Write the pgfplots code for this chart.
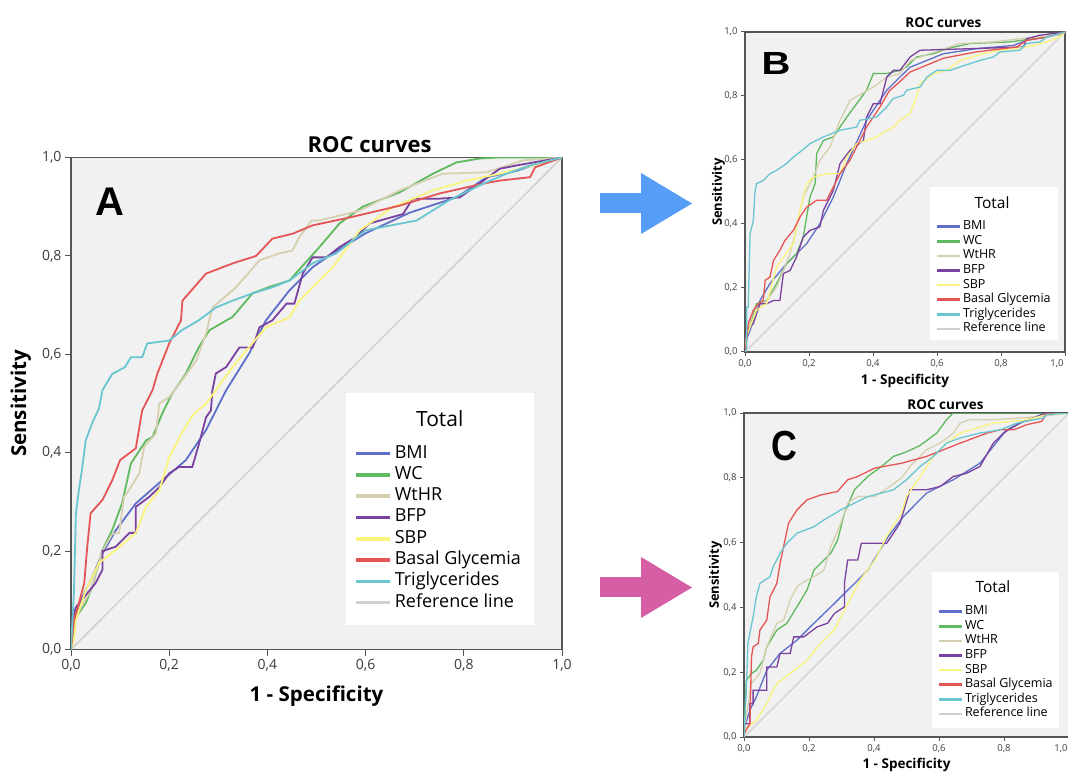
\documentclass[border=0pt]{standalone}
\usepackage{fontspec}
\setmainfont{Open Sans}
\newfontfamily\letterfont{Liberation Sans}
\usepackage{pgfplots}
\pgfplotsset{compat=1.18}
\definecolor{cBMI}{RGB}{95,110,200}
\definecolor{cWC}{RGB}{95,185,95}
\definecolor{cWtHR}{RGB}{214,208,176}
\definecolor{cBFP}{RGB}{122,66,160}
\definecolor{cSBP}{RGB}{250,244,125}
\definecolor{cGly}{RGB}{230,85,85}
\definecolor{cTri}{RGB}{105,198,208}
\definecolor{cRef}{RGB}{208,208,208}
\definecolor{bggray}{RGB}{241,241,241}
\definecolor{axgray}{RGB}{85,85,85}
\definecolor{tickgray}{RGB}{60,60,60}
\definecolor{arrowblue}{RGB}{86,157,247}
\definecolor{arrowpink}{RGB}{214,94,164}
\pgfplotsset{
  roc/.style={
    scale only axis, xmin=0, xmax=1, ymin=0, ymax=1,
    axis background/.style={fill=bggray},
    axis line style={draw=axgray, line width=1.1pt},
    xtick={0,0.2,0.4,0.6,0.8,1}, ytick={0,0.2,0.4,0.6,0.8,1},
    tick pos=left, tick align=outside,
    major tick style={draw=axgray, line width=1pt},
    /pgf/number format/fixed, /pgf/number format/fixed zerofill,
    /pgf/number format/precision=1, /pgf/number format/use comma,
    /pgf/number format/assume math mode=true,
    ticklabel style={text=tickgray},
    title={ROC curves},
    xlabel={1 - Specificity}, ylabel={Sensitivity},
    legend cell align=left,
  },
  rocA/.style={roc,
    major tick length=6pt,
    ticklabel style={font=\fontsize{14}{16}\selectfont},
    title style={at={(0.608,1)}, anchor=base, yshift=-1.5pt, font=\fontsize{22}{24}\selectfont\bfseries},
    x label style={at={(axis description cs:0.5,-0.1066)}, anchor=base, font=\fontsize{20.5}{24}\selectfont\bfseries},
    y label style={at={(axis description cs:-0.0916,0.5)}, anchor=base, font=\fontsize{20.5}{24}\selectfont\bfseries},
    legend style={at={(0.58,0.416)}, anchor=north west, draw=none, fill=none, inner sep=0pt,
      row sep=4.3pt, font=\fontsize{18}{20}\selectfont,
      nodes={inner xsep=0pt, inner ysep=0pt, text height=13pt, text depth=4pt},
      /tikz/every odd column/.style={column sep=5pt}},
    legend image code/.code={\fill[#1] (0pt,-0.9pt) rectangle (32pt,0.9pt);},
    every axis plot/.append style={line width=1.8pt},
  },
  rocS/.style={roc,
    major tick length=4pt,
    ticklabel style={font=\fontsize{9.5}{11}\selectfont},
    xticklabels={{0,0},{0,2},{0,4},{0,6},{0,8},{\makebox[0pt][r]{1,0\hspace{1.5pt}}}},
    title style={at={(0.62,1)}, anchor=base, yshift=-2pt, font=\fontsize{13.5}{15}\selectfont\bfseries},
    legend style={anchor=north west, draw=none, fill=none, inner sep=0pt,
      row sep=2.6pt, font=\fontsize{12.5}{14}\selectfont,
      nodes={inner xsep=0pt, inner ysep=0pt, text height=9pt, text depth=3pt},
      /tikz/every odd column/.style={column sep=3.5pt}},
    legend image code/.code={\fill[#1] (0pt,-0.65pt) rectangle (21pt,0.65pt);},
    every axis plot/.append style={line width=1.3pt},
  },
}
\begin{document}
\begin{tikzpicture}
\path[use as bounding box] (0pt,0pt) rectangle (1068pt,772pt);
% arrows
\fill[arrowblue] (600pt,559pt) rectangle (642pt,579pt);
\fill[arrowblue] (641pt,599pt) -- (692pt,568.5pt) -- (641pt,538pt) -- cycle;
\fill[arrowpink] (600pt,175pt) rectangle (642pt,195pt);
\fill[arrowpink] (641pt,215pt) -- (692pt,184.5pt) -- (641pt,154pt) -- cycle;

%================ PANEL A
\begin{axis}[rocA, at={(71pt,122.5pt)}, anchor=south west, width=491pt, height=492pt]
\addplot[cRef, line width=1.5pt, forget plot] coordinates {(0,0) (1,1)};
\addplot[cBMI] coordinates {(0,0) (0.006,0.06) (0.02,0.1) (0.043,0.147) (0.064,0.195) (0.091,0.242) (0.132,0.297) (0.186,0.344) (0.234,0.385) (0.275,0.446) (0.316,0.527) (0.363,0.602) (0.397,0.669) (0.445,0.73) (0.492,0.777) (0.533,0.805) (0.6,0.846) (0.69,0.888) (0.785,0.919) (0.847,0.96) (0.908,0.973) (0.969,0.994) (1,1)};
\addlegendentry{BMI}
\addplot[cWC] coordinates {(0,0) (0.006,0.06) (0.03,0.094) (0.043,0.127) (0.064,0.202) (0.084,0.243) (0.104,0.297) (0.122,0.378) (0.153,0.425) (0.166,0.432) (0.186,0.48) (0.206,0.52) (0.234,0.561) (0.26,0.614) (0.282,0.649) (0.329,0.676) (0.37,0.724) (0.404,0.737) (0.445,0.75) (0.506,0.818) (0.547,0.866) (0.594,0.9) (0.669,0.929) (0.737,0.967) (0.785,0.99) (0.833,0.998) (0.87,1) (1,1)};
\addlegendentry{WC}
\addplot[cWtHR] coordinates {(0,0) (0.006,0.06) (0.04,0.12) (0.064,0.2) (0.084,0.235) (0.098,0.237) (0.108,0.31) (0.122,0.33) (0.139,0.358) (0.149,0.412) (0.173,0.439) (0.18,0.5) (0.2,0.513) (0.226,0.547) (0.255,0.587) (0.275,0.642) (0.288,0.695) (0.336,0.736) (0.384,0.791) (0.424,0.805) (0.451,0.811) (0.465,0.838) (0.49,0.872) (0.506,0.872) (0.588,0.892) (0.669,0.933) (0.757,0.967) (0.847,0.97) (0.92,0.994) (1,1)};
\addlegendentry{WtHR}
\addplot[cBFP] coordinates {(0,0) (0.003,0.06) (0.01,0.086) (0.05,0.135) (0.064,0.162) (0.064,0.2) (0.091,0.209) (0.119,0.237) (0.132,0.237) (0.132,0.29) (0.159,0.31) (0.18,0.33) (0.2,0.358) (0.22,0.371) (0.247,0.371) (0.261,0.419) (0.275,0.472) (0.285,0.486) (0.288,0.527) (0.295,0.561) (0.316,0.574) (0.343,0.614) (0.37,0.614) (0.384,0.655) (0.41,0.669) (0.439,0.703) (0.455,0.703) (0.472,0.764) (0.492,0.797) (0.52,0.797) (0.547,0.818) (0.58,0.838) (0.608,0.866) (0.676,0.885) (0.696,0.916) (0.745,0.916) (0.792,0.919) (0.84,0.953) (0.873,0.977) (0.908,0.984) (0.965,0.994) (1,1)};
\addlegendentry{BFP}
\addplot[cSBP] coordinates {(0,0) (0.006,0.02) (0.01,0.06) (0.03,0.12) (0.057,0.176) (0.091,0.202) (0.132,0.237) (0.153,0.29) (0.18,0.324) (0.2,0.39) (0.226,0.44) (0.247,0.475) (0.275,0.5) (0.295,0.527) (0.329,0.574) (0.357,0.608) (0.397,0.655) (0.445,0.675) (0.465,0.709) (0.506,0.75) (0.533,0.777) (0.588,0.852) (0.655,0.899) (0.737,0.933) (0.806,0.953) (0.873,0.967) (0.941,0.984) (1,1)};
\addlegendentry{SBP}
\addplot[cGly] coordinates {(0,0) (0.003,0.03) (0.006,0.06) (0.015,0.09) (0.027,0.135) (0.033,0.208) (0.04,0.277) (0.064,0.304) (0.084,0.344) (0.1,0.385) (0.132,0.409) (0.145,0.486) (0.166,0.527) (0.176,0.561) (0.2,0.622) (0.224,0.669) (0.227,0.709) (0.275,0.764) (0.33,0.785) (0.377,0.8) (0.41,0.835) (0.451,0.845) (0.492,0.862) (0.567,0.878) (0.669,0.902) (0.751,0.927) (0.84,0.947) (0.873,0.953) (0.935,0.96) (0.945,0.98) (1,1)};
\addlegendentry{Basal Glycemia}
\addplot[cTri] coordinates {(0,0) (0.003,0.06) (0.006,0.115) (0.01,0.277) (0.016,0.324) (0.023,0.37) (0.03,0.425) (0.043,0.46) (0.057,0.49) (0.064,0.527) (0.084,0.56) (0.11,0.574) (0.122,0.594) (0.145,0.594) (0.155,0.622) (0.2,0.628) (0.226,0.649) (0.26,0.669) (0.295,0.695) (0.329,0.709) (0.37,0.724) (0.41,0.736) (0.445,0.75) (0.492,0.785) (0.54,0.805) (0.6,0.852) (0.704,0.872) (0.77,0.913) (0.84,0.947) (0.887,0.967) (0.935,0.984) (1,1)};
\addlegendentry{Triglycerides}
\addlegendimage{cRef}
\addlegendentry{Reference line}
\fill[white] (rel axis cs:0.561,0.05) rectangle (rel axis cs:0.943,0.521);
\node[font=\fontsize{21}{24}\selectfont] at (rel axis cs:0.751,0.47) {Total};
\node[font=\letterfont\bfseries\fontsize{40}{40}\selectfont] at (rel axis cs:0.08,0.911) {A};
\end{axis}

%================ PANEL B
\begin{axis}[rocS, at={(745pt,420pt)}, anchor=south west, width=320pt, height=320pt,
  x label style={at={(axis description cs:0.5,-0.1)}, anchor=base, font=\fontsize{13.5}{15}\selectfont\bfseries},
  y label style={at={(axis description cs:-0.072,0.5)}, anchor=base, font=\fontsize{13}{15}\selectfont\bfseries},
  legend style={at={(0.6,0.411)}}]
\addplot[cRef, line width=1.2pt, forget plot] coordinates {(0,0) (1,1)};
\addplot[cBMI] coordinates {(0,0) (0.005,0.04) (0.016,0.068) (0.047,0.161) (0.078,0.214) (0.13,0.276) (0.193,0.339) (0.234,0.401) (0.276,0.484) (0.318,0.589) (0.38,0.724) (0.443,0.818) (0.484,0.859) (0.516,0.89) (0.62,0.932) (0.724,0.948) (0.839,0.958) (0.88,0.974) (0.943,0.984) (1,1)};
\addlegendentry{BMI}
\addplot[cWC] coordinates {(0,0) (0.005,0.04) (0.01,0.068) (0.036,0.151) (0.068,0.161) (0.099,0.214) (0.13,0.276) (0.161,0.307) (0.182,0.359) (0.203,0.484) (0.219,0.526) (0.224,0.62) (0.245,0.661) (0.276,0.672) (0.318,0.734) (0.349,0.776) (0.38,0.818) (0.401,0.87) (0.443,0.87) (0.484,0.88) (0.505,0.891) (0.536,0.922) (0.589,0.932) (0.63,0.948) (0.703,0.964) (0.828,0.969) (0.901,0.979) (0.964,0.99) (1,1)};
\addlegendentry{WC}
\addplot[cWtHR] coordinates {(0,0) (0.005,0.05) (0.026,0.13) (0.068,0.161) (0.099,0.203) (0.12,0.255) (0.141,0.307) (0.161,0.391) (0.182,0.484) (0.214,0.547) (0.234,0.599) (0.266,0.641) (0.297,0.724) (0.328,0.786) (0.401,0.828) (0.443,0.859) (0.484,0.87) (0.516,0.911) (0.609,0.943) (0.672,0.964) (0.776,0.969) (0.859,0.979) (0.984,0.99) (1,1)};
\addlegendentry{WtHR}
\addplot[cBFP] coordinates {(0,0) (0.005,0.068) (0.026,0.089) (0.047,0.151) (0.068,0.151) (0.089,0.161) (0.109,0.161) (0.12,0.245) (0.141,0.255) (0.161,0.297) (0.182,0.359) (0.203,0.38) (0.234,0.391) (0.245,0.443) (0.276,0.505) (0.297,0.589) (0.328,0.63) (0.37,0.661) (0.38,0.734) (0.401,0.776) (0.422,0.776) (0.443,0.859) (0.464,0.88) (0.484,0.88) (0.516,0.922) (0.547,0.943) (0.87,0.953) (0.88,0.979) (0.922,0.99) (1,1)};
\addlegendentry{BFP}
\addplot[cSBP] coordinates {(0,0) (0.005,0.05) (0.036,0.13) (0.068,0.151) (0.099,0.266) (0.151,0.339) (0.172,0.443) (0.193,0.526) (0.214,0.547) (0.255,0.557) (0.297,0.557) (0.318,0.609) (0.349,0.651) (0.411,0.672) (0.464,0.703) (0.484,0.724) (0.516,0.745) (0.536,0.797) (0.547,0.839) (0.589,0.87) (0.63,0.88) (0.672,0.911) (0.745,0.932) (0.797,0.943) (0.88,0.953) (0.943,0.969) (0.984,0.984) (1,1)};
\addlegendentry{SBP}
\addplot[cGly] coordinates {(0,0) (0.005,0.036) (0.01,0.089) (0.026,0.13) (0.042,0.151) (0.057,0.161) (0.063,0.224) (0.078,0.234) (0.089,0.286) (0.109,0.318) (0.125,0.349) (0.151,0.38) (0.172,0.422) (0.193,0.453) (0.224,0.474) (0.255,0.474) (0.297,0.557) (0.328,0.599) (0.349,0.641) (0.38,0.703) (0.422,0.766) (0.45,0.815) (0.484,0.845) (0.516,0.875) (0.62,0.918) (0.724,0.938) (0.849,0.953) (0.88,0.974) (0.943,0.984) (1,1)};
\addlegendentry{Basal Glycemia}
\addplot[cTri] coordinates {(0,0) (0.005,0.01) (0.005,0.14) (0.01,0.14) (0.016,0.37) (0.026,0.41) (0.031,0.5) (0.036,0.526) (0.057,0.536) (0.078,0.557) (0.099,0.568) (0.13,0.589) (0.151,0.609) (0.172,0.625) (0.203,0.651) (0.245,0.672) (0.297,0.693) (0.349,0.703) (0.359,0.724) (0.411,0.734) (0.443,0.766) (0.463,0.792) (0.495,0.802) (0.505,0.818) (0.547,0.828) (0.568,0.859) (0.599,0.88) (0.641,0.88) (0.672,0.891) (0.734,0.911) (0.776,0.922) (0.797,0.9375) (0.859,0.943) (0.88,0.964) (0.922,0.969) (0.943,0.984) (1,1)};
\addlegendentry{Triglycerides}
\addlegendimage{cRef}
\addlegendentry{Reference line}
\fill[white] (rel axis cs:0.578,0.0375) rectangle (rel axis cs:0.978,0.516);
\node[font=\fontsize{15.5}{17}\selectfont] at (rel axis cs:0.772,0.466) {Total};
\node[font=\letterfont\bfseries\fontsize{32}{32}\selectfont] at (rel axis cs:0.097,0.903) {\scalebox{1.25}[1]{B}};
\end{axis}

%================ PANEL C
\begin{axis}[rocS, at={(744pt,35pt)}, anchor=south west, width=325pt, height=324pt,
  x label style={at={(axis description cs:0.5,-0.0957)}, anchor=base, font=\fontsize{13.5}{15}\selectfont\bfseries},
  y label style={at={(axis description cs:-0.077,0.5)}, anchor=base, font=\fontsize{13}{15}\selectfont\bfseries},
  legend style={at={(0.6,0.406)}}]
\addplot[cRef, line width=1.2pt, forget plot] coordinates {(0,0) (1,1)};
\addplot[cBMI] coordinates {(0,0) (0.005,0.04) (0.018,0.082) (0.038,0.124) (0.07,0.206) (0.111,0.258) (0.163,0.299) (0.215,0.351) (0.278,0.412) (0.33,0.464) (0.381,0.515) (0.444,0.619) (0.49,0.68) (0.562,0.753) (0.644,0.794) (0.726,0.845) (0.767,0.897) (0.808,0.948) (0.87,0.979) (0.931,1) (1,1)};
\addlegendentry{BMI}
\addplot[cWC] coordinates {(0,0) (0,0.01) (0.007,0.175) (0.023,0.196) (0.038,0.206) (0.059,0.237) (0.07,0.278) (0.101,0.33) (0.132,0.351) (0.163,0.402) (0.194,0.454) (0.215,0.515) (0.236,0.536) (0.267,0.567) (0.288,0.608) (0.309,0.691) (0.34,0.763) (0.381,0.804) (0.423,0.835) (0.46,0.866) (0.5,0.88) (0.542,0.9) (0.593,0.938) (0.623,0.979) (0.644,1) (1,1)};
\addlegendentry{WC}
\addplot[cWtHR] coordinates {(0,0) (0.005,0.05) (0.023,0.165) (0.049,0.196) (0.07,0.278) (0.101,0.351) (0.122,0.361) (0.142,0.423) (0.163,0.464) (0.194,0.485) (0.215,0.495) (0.246,0.515) (0.267,0.588) (0.298,0.66) (0.319,0.722) (0.35,0.742) (0.402,0.742) (0.444,0.77) (0.485,0.8) (0.511,0.835) (0.562,0.887) (0.603,0.907) (0.644,0.938) (0.665,0.969) (0.695,0.979) (0.767,0.979) (0.921,0.99) (1,1)};
\addlegendentry{WtHR}
\addplot[cBFP] coordinates {(0,0) (0,0.041) (0.018,0.041) (0.018,0.103) (0.028,0.103) (0.028,0.144) (0.07,0.144) (0.07,0.216) (0.101,0.216) (0.111,0.258) (0.142,0.258) (0.153,0.309) (0.184,0.309) (0.225,0.34) (0.257,0.351) (0.278,0.381) (0.309,0.402) (0.309,0.474) (0.319,0.546) (0.35,0.546) (0.361,0.598) (0.439,0.598) (0.48,0.66) (0.511,0.763) (0.562,0.763) (0.603,0.773) (0.644,0.804) (0.685,0.814) (0.726,0.835) (0.767,0.907) (0.798,0.938) (0.849,0.969) (0.931,1) (1,1)};
\addlegendentry{BFP}
\addplot[cSBP] coordinates {(0,0) (0,0.02) (0.038,0.052) (0.07,0.103) (0.101,0.165) (0.142,0.196) (0.194,0.237) (0.236,0.289) (0.278,0.33) (0.309,0.392) (0.33,0.433) (0.361,0.49) (0.402,0.545) (0.444,0.629) (0.485,0.691) (0.5,0.742) (0.542,0.804) (0.583,0.866) (0.623,0.907) (0.665,0.938) (0.767,0.969) (0.87,0.979) (0.931,0.995) (1,1)};
\addlegendentry{SBP}
\addplot[cGly] coordinates {(0,0) (0,0.01) (0.018,0.041) (0.023,0.247) (0.028,0.278) (0.044,0.289) (0.049,0.33) (0.07,0.361) (0.08,0.433) (0.101,0.474) (0.111,0.536) (0.122,0.588) (0.137,0.66) (0.163,0.701) (0.194,0.732) (0.236,0.747) (0.288,0.758) (0.319,0.794) (0.35,0.804) (0.402,0.83) (0.485,0.845) (0.562,0.866) (0.665,0.907) (0.748,0.938) (0.788,0.948) (0.83,0.948) (0.87,0.964) (0.916,0.974) (0.931,1) (1,1)};
\addlegendentry{Basal Glycemia}
\addplot[cTri] coordinates {(0,0) (0.007,0.144) (0.012,0.289) (0.028,0.371) (0.038,0.433) (0.049,0.474) (0.08,0.495) (0.09,0.526) (0.111,0.567) (0.132,0.598) (0.163,0.629) (0.215,0.649) (0.246,0.67) (0.298,0.701) (0.34,0.722) (0.381,0.742) (0.423,0.753) (0.46,0.763) (0.5,0.794) (0.542,0.835) (0.583,0.866) (0.623,0.907) (0.665,0.923) (0.726,0.938) (0.788,0.948) (0.84,0.969) (0.893,0.979) (0.923,0.985) (0.931,0.995) (1,1)};
\addlegendentry{Triglycerides}
\addlegendimage{cRef}
\addlegendentry{Reference line}
\fill[white] (rel axis cs:0.578,0.028) rectangle (rel axis cs:0.969,0.509);
\node[font=\fontsize{15.5}{17}\selectfont] at (rel axis cs:0.766,0.463) {Total};
\node[font=\letterfont\bfseries\fontsize{42}{42}\selectfont] at (rel axis cs:0.123,0.898) {\scalebox{0.85}[1]{C}};
\end{axis}
\end{tikzpicture}
\end{document}
